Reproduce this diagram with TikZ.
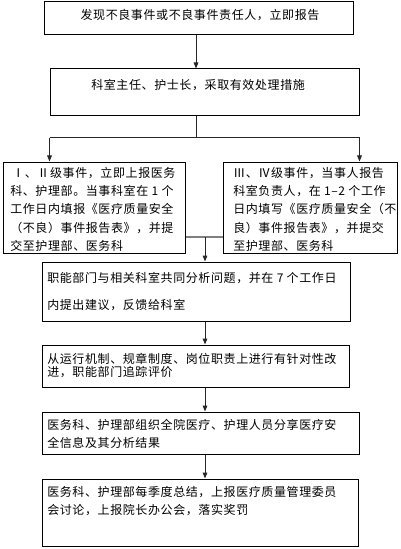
\documentclass[tikz,border=0pt]{standalone}
\usepackage{fontspec}
\setmainfont{Noto Sans CJK SC}[LetterSpace=5]
\usetikzlibrary{arrows.meta,fit,calc}
\tikzset{>={Triangle[width=3.5pt,length=4.5pt]}}

\begin{document}
\begin{tikzpicture}[x=0.75pt,y=-0.75pt,font=\fontsize{9}{13.6}\selectfont,
  box/.style={draw,line width=0.75pt,inner sep=0pt},
  txt/.style={anchor=north west,inner sep=0pt,align=left},
  link/.style={->,line width=0.75pt,black!85}]
\useasboundingbox (0,0) rectangle (400,549);
\node[box,fit={(44,2) (353,35)}] (b1) {};
\node[box,fit={(50,69) (359,116)}] (b2) {};
\node[box,fit={(3,162) (185,253)}] (b3l) {};
\node[box,fit={(223,162) (397,253)}] (b3r) {};
\node[box,fit={(42,262) (350,321)}] (b4) {};
\node[box,fit={(42,345) (349,387)}] (b5) {};
\node[box,fit={(42,412) (359,454)}] (b6) {};
\node[box,fit={(42,479) (358,546)}] (b7) {};
\node[txt,anchor=base] (t1) at (200,19.6) {发现不良事件或不良事件责任人，立即报告};
\node[txt,anchor=base west] (t2) at (91,89.6) {科室主任、护士长，采取有效处理措施};
\node[txt] (t3l) at (10,167.3) {\,Ⅰ、Ⅱ级事件，立即上报医务\\科、护理部。当事科室在 1 个\\工作日内填报《医疗质量安全\\（不良）事件报告表》，并提\\交至护理部、医务科};
\node[txt] (t3r) at (233,167.3) {Ⅲ、Ⅳ级事件，当事人报告\\科室负责人，在 1–2 个工作\\日内填写《医疗质量安全（不\\良）事件报告表》，并提交\\至护理部、医务科};
\node[txt,font=\fontsize{9}{20}\selectfont] (t4) at (47,272) {职能部门与相关科室共同分析问题，并在 7 个工作日\\内提出建议，反馈给科室};
\node[txt,font=\fontsize{9}{9.8}\selectfont] (t5) at (47,353) {从运行机制、规章制度、岗位职责上进行有针对性改\\进，职能部门追踪评价};
\node[txt,font=\fontsize{9}{13.5}\selectfont] (t6) at (47,419) {医务科、护理部组织全院医疗、护理人员分享医疗安\\全信息及其分析结果};
\node[txt,font=\fontsize{9}{13.5}\selectfont] (t7) at (47,486) {医务科、护理部每季度总结，上报医疗质量管理委员\\会讨论，上报院长办公会，落实奖罚};
\coordinate (top) at (196,0);
\coordinate (sp) at (196,137.7);
\coordinate (mg) at (205,237);
\draw[link] (b1.south -| top) -- (b2.north -| top);
\draw[line width=0.75pt,black!85] (b2.south -| sp) -- (sp);
\draw[line width=0.75pt,black!85] (b2.west |- sp) -- (b2.east |- sp);
\draw[link] (b2.west |- sp) -- (b2.west |- b3l.north);
\draw[link] (b2.east |- sp) -- (b2.east |- b3r.north);
\draw[gray,line width=1.5pt] (b3l.east |- mg) -- (b3r.west |- mg);
\draw[link] (mg) -- (mg |- b4.north);
\draw[link] (b4.south -| mg) -- (b5.north -| mg);
\draw[link] (b5.south -| mg) -- (b6.north -| mg);
\draw[link] (b6.south -| mg) -- (b7.north -| mg);
\end{tikzpicture}
\end{document}
